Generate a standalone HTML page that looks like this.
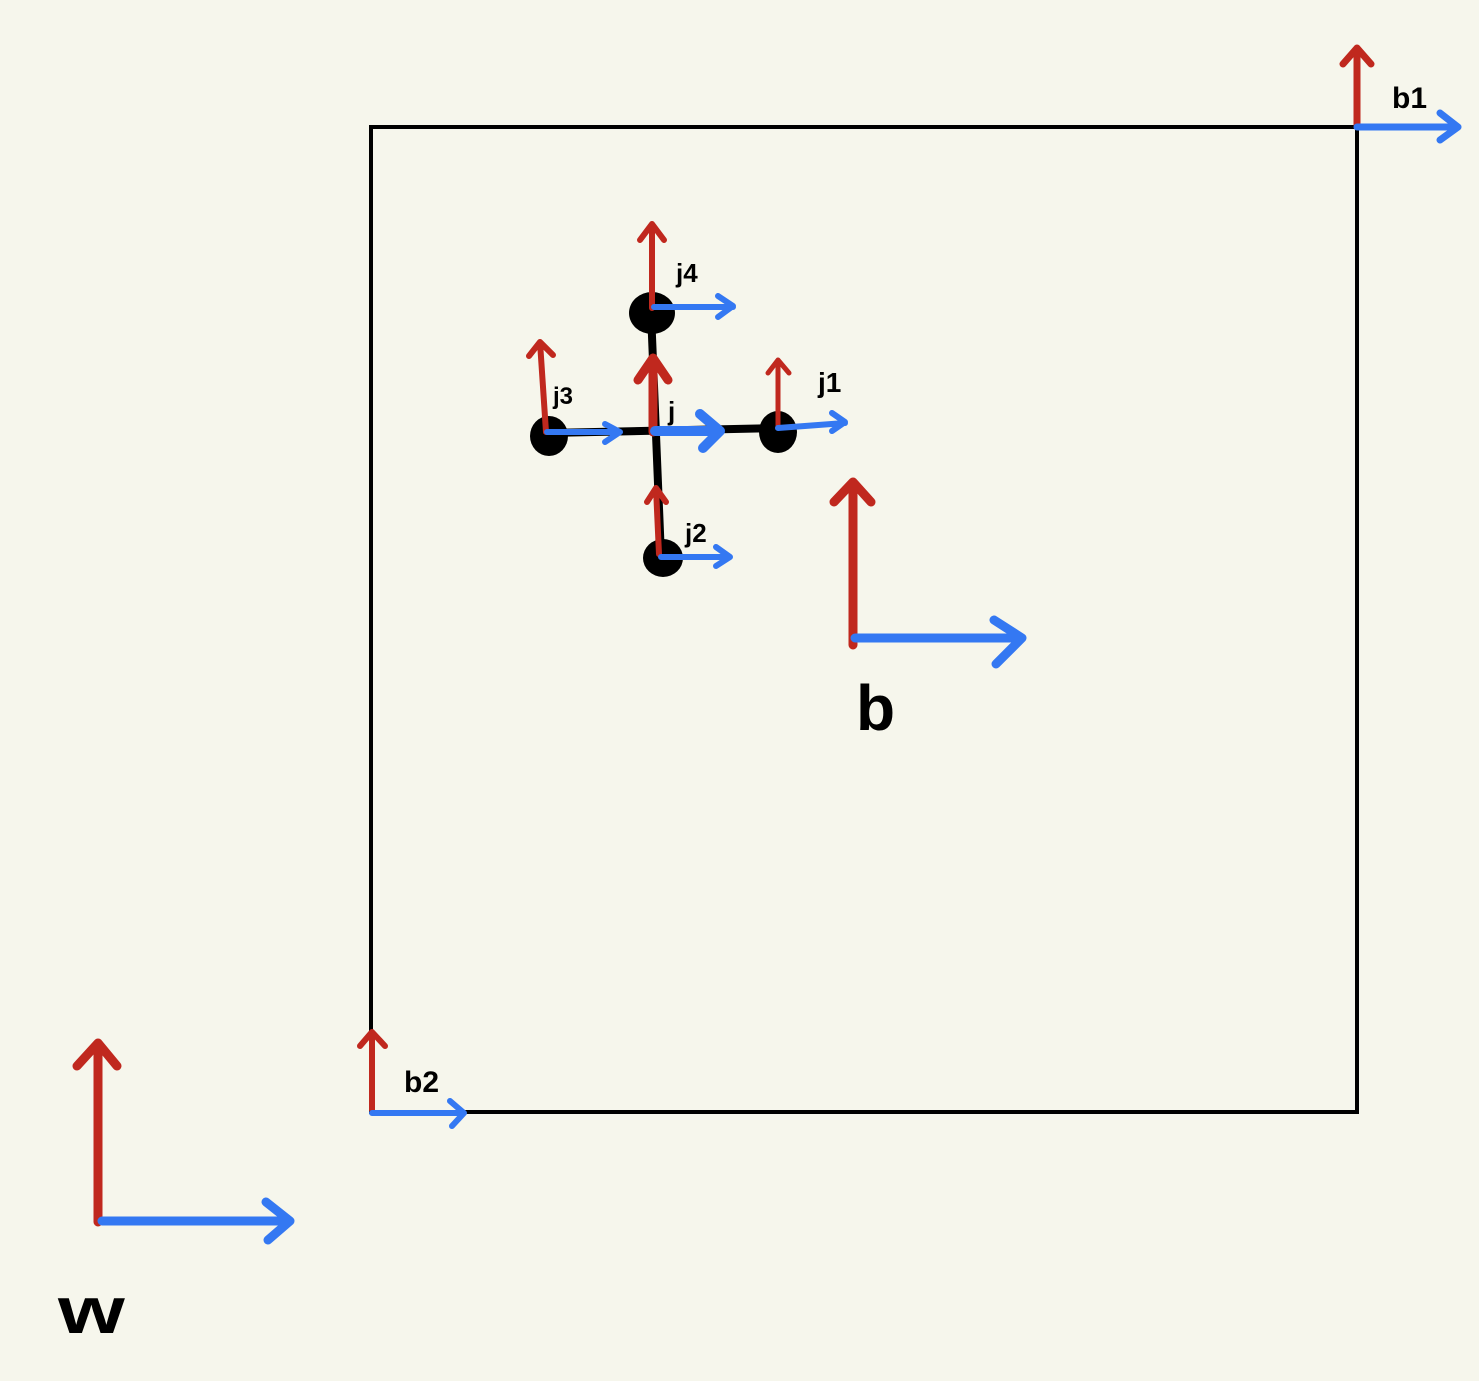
<!DOCTYPE html>
<html><head><meta charset="utf-8"><style>
html,body{margin:0;padding:0;background:#f6f6ec;}
svg{display:block}
text{font-family:"Liberation Sans",sans-serif;font-weight:bold;fill:#000}
</style></head><body>
<svg width="1479" height="1381" viewBox="0 0 1479 1381" xmlns="http://www.w3.org/2000/svg">
<rect width="1479" height="1381" fill="#f6f6ec"/>
<rect x="371" y="127" width="986" height="985" fill="none" stroke="#000" stroke-width="4"/>
<g stroke="#000" stroke-width="8" stroke-linecap="round">
<line x1="548" y1="433" x2="778" y2="428"/>
<line x1="651" y1="312" x2="661" y2="557"/>
</g>
<g fill="#000">
<ellipse cx="652" cy="313" rx="23" ry="21"/>
<ellipse cx="549" cy="436" rx="19" ry="20"/>
<ellipse cx="778" cy="432" rx="19" ry="21"/>
<ellipse cx="663" cy="558" rx="20" ry="19"/>
</g>
<g fill="none" stroke-linecap="round" stroke-linejoin="round">
<g stroke="#c0281e">
<path d="M1357 125 V48 M1343 64 L1357 48 L1371 64" stroke-width="7"/>
<path d="M652 308 V224 M640 240 L652 224 L664 240" stroke-width="6"/>
<path d="M546 432 L540 342 M529 356 L540 342 L553 355" stroke-width="6"/>
<path d="M653 432 V358 M638 380 L653 358 L668 380" stroke-width="9"/>
<path d="M778 426 V360 M768 373 L778 360 L789 373" stroke-width="5"/>
<path d="M659 554 L656 488 M647 502 L656 488 L666 502" stroke-width="6"/>
<path d="M853 645 V482 M834 502 L853 482 L871 502" stroke-width="9"/>
<path d="M372 1110 V1032 M360 1046 L372 1032 L385 1046" stroke-width="6"/>
<path d="M98 1222 V1043 M77 1066 L98 1043 L117 1066" stroke-width="9"/>
</g>
<g stroke="#3478f2">
<path d="M1357 127 H1458 M1440 113 L1458 127 L1440 140" stroke-width="7"/>
<path d="M654 307 H733 M718 296 L733 306 L718 317" stroke-width="6"/>
<path d="M547 432 H620 M605 424 L620 432 L605 442" stroke-width="6"/>
<path d="M655 431 H720 M700 414 L720 431 L703 448" stroke-width="10"/>
<path d="M778 428 L845 423 M832 413 L845 422 L832 431" stroke-width="6"/>
<path d="M661 557 H730 M716 547 L730 557 L716 566" stroke-width="6"/>
<path d="M855 638 H1022 M994 620 L1022 638 L996 664" stroke-width="9"/>
<path d="M372 1113 H464 M450 1101 L464 1113 L452 1126" stroke-width="6"/>
<path d="M102 1221 H290 M266 1202 L290 1221 L268 1240" stroke-width="9"/>
</g>
</g>
<text x="1392" y="108" font-size="30">b1</text>
<text x="676" y="282" font-size="26">j4</text>
<text x="553" y="404" font-size="24">j3</text>
<text x="668" y="420" font-size="26">j</text>
<text x="818" y="392" font-size="28">j1</text>
<text x="685" y="542" font-size="26">j2</text>
<text x="856" y="730" font-size="64">b</text>
<text x="404" y="1092" font-size="30">b2</text>
<text x="0" y="0" font-size="66" transform="translate(58 1333) scale(1.3 1)">w</text>
</svg>
</body></html>
